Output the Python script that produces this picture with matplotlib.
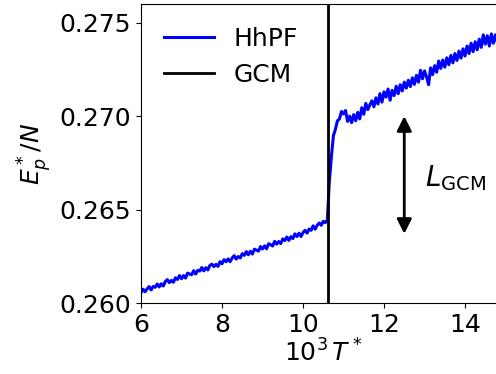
import numpy as np
import matplotlib
matplotlib.use("Agg")
import matplotlib.pyplot as plt

# temperature grid (10^3 T*), step 0.05 from 6.00 to 14.80
t_start, t_step = 6.0, 0.05
# E_p*/N
ep = [
    0.26056, 0.26074, 0.26060, 0.26075, 0.26088, 0.26070, 0.26089, 0.26084, 0.26102, 0.26086,
    0.26103, 0.26091, 0.26115, 0.26125, 0.26109, 0.26121, 0.26111, 0.26135, 0.26126, 0.26147,
    0.26130, 0.26147, 0.26133, 0.26160, 0.26155, 0.26151, 0.26173, 0.26155, 0.26175, 0.26171,
    0.26190, 0.26172, 0.26189, 0.26177, 0.26201, 0.26208, 0.26195, 0.26207, 0.26196, 0.26221,
    0.26210, 0.26232, 0.26221, 0.26236, 0.26221, 0.26241, 0.26253, 0.26235, 0.26249, 0.26241,
    0.26264, 0.26255, 0.26275, 0.26258, 0.26277, 0.26262, 0.26288, 0.26283, 0.26278, 0.26302,
    0.26289, 0.26306, 0.26290, 0.26317, 0.26312, 0.26305, 0.26330, 0.26315, 0.26329, 0.26318,
    0.26343, 0.26334, 0.26353, 0.26335, 0.26355, 0.26345, 0.26370, 0.26356, 0.26373, 0.26356,
    0.26377, 0.26389, 0.26374, 0.26396, 0.26389, 0.26413, 0.26395, 0.26416, 0.26428, 0.26416,
    0.26437, 0.26430, 0.26445,
    0.26650, 0.26782, 0.26895, 0.26930, 0.26975, 0.26985, 0.27025, 0.27012,
    0.27030, 0.26972, 0.27000, 0.26965, 0.27008, 0.26975, 0.27020, 0.26985, 0.27045, 0.27010,
    0.27068, 0.27035, 0.27060, 0.27082, 0.27050, 0.27098, 0.27065, 0.27120, 0.27075, 0.27130,
    0.27102, 0.27145, 0.27085, 0.27138, 0.27110, 0.27160, 0.27120, 0.27168, 0.27135, 0.27182,
    0.27150, 0.27192, 0.27158, 0.27205, 0.27170, 0.27218, 0.27182, 0.27245, 0.27200, 0.27242,
    0.27210, 0.27168, 0.27258, 0.27222, 0.27270, 0.27235, 0.27295, 0.27255, 0.27300, 0.27262,
    0.27312, 0.27275, 0.27325, 0.27285, 0.27335, 0.27298, 0.27348, 0.27310, 0.27360, 0.27322,
    0.27375, 0.27335, 0.27390, 0.27345, 0.27398, 0.27355, 0.27412, 0.27368, 0.27435, 0.27385,
    0.27430, 0.27375, 0.27440, 0.27390, 0.27435, 0.27395,
]
t = np.round(t_start + t_step * np.arange(len(ep)), 2)

t_gcm = 10.62
arrow_x = 12.5
arrow_lo, arrow_hi = 0.2637, 0.2700
label_x, label_y = 13.0, 0.2667

plt.rcParams['font.size'] = 18
fig = plt.figure(figsize=(4.96, 3.74), dpi=100)
ax = fig.add_axes([0.2843, 0.1898, 0.7349, 0.7995])

ax.plot(t, ep, color='blue', lw=2.2, label='HhPF')
ax.axvline(t_gcm, color='black', lw=2, label='GCM')
ax.annotate('', xy=(arrow_x, arrow_hi), xytext=(arrow_x, arrow_lo),
            arrowprops=dict(arrowstyle='<|-|>', color='black', lw=2, mutation_scale=22,
                            shrinkA=0, shrinkB=0))
ax.text(label_x, label_y, r'$L_{\mathrm{GCM}}$', fontsize=20, va='center', ha='left')

ax.set_xlim(6, 15)
ax.set_ylim(0.260, 0.276)
ax.set_xticks([6, 8, 10, 12, 14])
ax.set_yticks([0.260, 0.265, 0.270, 0.275])
ax.set_yticklabels(['0.260', '0.265', '0.270', '0.275'])
ax.set_xlabel(r'$10^3\,T^*$', labelpad=2)
ax.set_ylabel(r'$E_p^*/N$')
ax.legend(loc='upper left', frameon=False)

fig.savefig('out.png', dpi=100)
